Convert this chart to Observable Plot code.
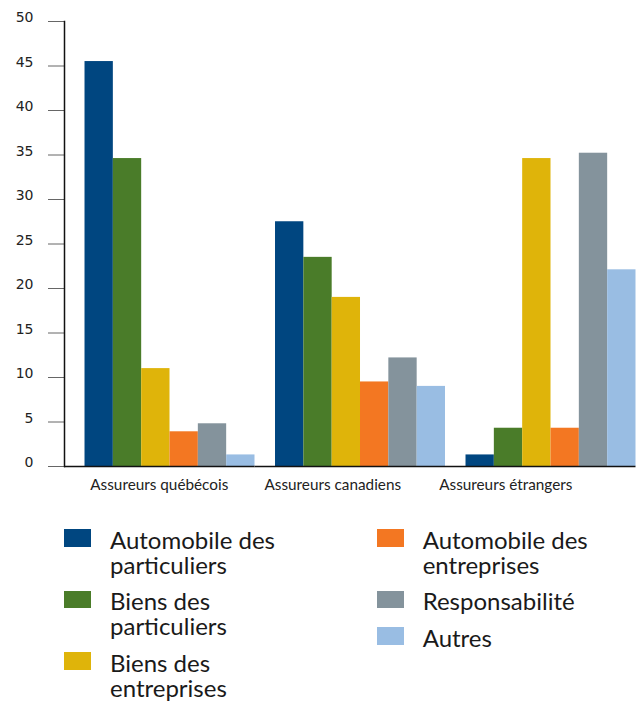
<!DOCTYPE html>
<html><head><meta charset="utf-8">
<script src="https://cdn.jsdelivr.net/npm/d3@7"></script>
<script src="https://cdn.jsdelivr.net/npm/@observablehq/plot@0.6"></script>
<style>
body{margin:0;background:#fff;width:636px;overflow:hidden;}
#chart svg{display:block;}
#legend{position:relative;height:203px;font-family:Lato,sans-serif;font-size:24px;line-height:25px;color:#1a1a1a;}
.col{position:absolute;top:26.7px;}
.item{display:flex;align-items:flex-start;margin-bottom:11.5px;}
.sw{width:27px;height:17.5px;flex:none;margin-right:19px;margin-top:2.6px;}
.lbl{width:200px;}
</style></head><body>
<div id="chart"></div>
<div id="legend"></div>
<script>
const groups = ["Assureurs québécois", "Assureurs canadiens", "Assureurs étrangers"];
const series = ["Automobile des particuliers", "Biens des particuliers", "Biens des entreprises", "Automobile des entreprises", "Responsabilité", "Autres"];
const colors = ["#004680", "#4a7c29", "#dfb40a", "#f37722", "#84939c", "#99bde3"];
const quebecois = [45.5, 34.6, 11.0, 3.9, 4.8, 1.3];
const canadiens = [27.5, 23.5, 19.0, 9.5, 12.2, 9.0];
const etrangers = [1.3, 4.3, 34.6, 4.3, 35.2, 22.1];
const yTicks = [0, 5, 10, 15, 20, 25, 30, 35, 40, 45, 50];
const legendColumns = [[0, 1, 2], [3, 4, 5]];
const labelShift = [-0.5, -17.5, -35];

const values = [quebecois, canadiens, etrangers];
const data = [];
groups.forEach((g, gi) => series.forEach((s, si) => data.push({group: g, series: s, value: values[gi][si]})));

const labelMarks = groups.map((g, i) => Plot.text([g], {
  fx: d => d, text: d => d, frameAnchor: "bottom", dy: 23, dx: labelShift[i],
  fontFamily: "Lato", fontSize: 15.3, fill: "#222"
}));

const chart = Plot.plot({
  width: 636, height: 500,
  marginLeft: 64, marginRight: 0.5, marginTop: 21, marginBottom: 34,
  style: {fontFamily: "DejaVu Sans", fontSize: "14px", color: "#222", background: "#fff"},
  fx: {domain: groups, padding: 0, axis: null, round: false},
  x: {domain: series, paddingInner: 0, paddingOuter: 0.362, align: 1, axis: null, round: false},
  y: {domain: [0, 50], axis: null},
  color: {domain: series, range: colors},
  marks: [
    Plot.barY(data, {fx: "group", x: "series", y: "value", fill: "series"}),
    Plot.axisY({ticks: yTicks, tickSize: 16, stroke: "#666", text: null, label: null}),
    Plot.axisY({ticks: yTicks, tickSize: 0, tickPadding: 31, fill: "#222", label: null, dy: -3.5}),
    Plot.ruleY([0], {stroke: "#111", strokeWidth: 1.5}),
    Plot.frame({anchor: "left", facetAnchor: "left", stroke: "#111", strokeWidth: 1.5}),
    ...labelMarks
  ]
});
document.getElementById("chart").appendChild(chart);

const legend = d3.select("#legend");
legendColumns.forEach((col, ci) => {
  const c = legend.append("div").attr("class", "col").style("left", ci === 0 ? "64px" : "376.7px");
  col.forEach(si => {
    const it = c.append("div").attr("class", "item");
    it.append("div").attr("class", "sw").style("background", colors[si]);
    it.append("div").attr("class", "lbl").text(series[si]);
  });
});
</script>
</body></html>
